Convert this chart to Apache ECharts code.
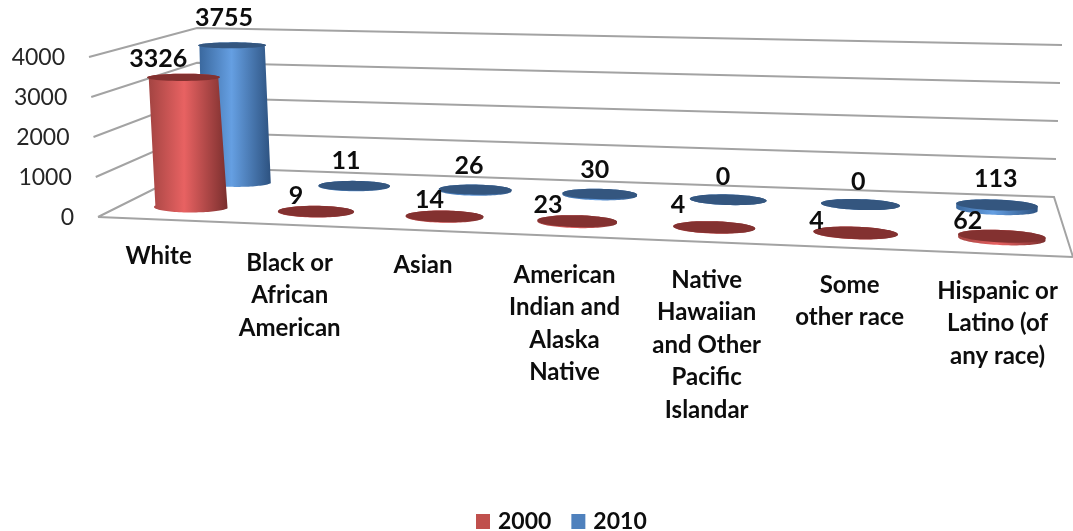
<!DOCTYPE html>
<html>
<head>
<meta charset="utf-8">
<style>html,body{margin:0;padding:0;background:#fff}#chart{width:1073px;height:531px}</style>
<script src="https://cdn.jsdelivr.net/npm/echarts@6/dist/echarts.min.js"></script>
</head>
<body>
<div id="chart"></div>
<script>
var categories = [
  'White',
  'Black or\nAfrican\nAmerican',
  'Asian',
  'American\nIndian and\nAlaska\nNative',
  'Native\nHawaiian\nand Other\nPacific\nIslandar',
  'Some\nother race',
  'Hispanic or\nLatino (of\nany race)'
];
var values2000 = [3326, 9, 14, 23, 4, 4, 62];
var values2010 = [3755, 11, 26, 30, 0, 0, 113];
var yTicks = [0, 1000, 2000, 3000, 4000];

// Hand-placed offsets of the value labels from the top of each cylinder.
var labelOffset2000 = [[-25, -18], [-20, -15], [-15, -16], [-29, -16], [-36, -22], [-39, -12], [-34, -15]];
var labelOffset2010 = [[-8, -27], [-8, -25], [-6, -24], [-5, -24], [-5, -23], [-2, -23], [-1, -26]];
// Hand-placed offsets of the category names from the front edge of the floor.
var categoryOffset = [[-2, 20], [1, 22], [2, 19], [7, 23], [8, 22], [5, 21], [2, 21]];

var FONT = 'Lato';
var PLANE = { left: 0, top: 0, width: 1000, height: 400 };
// Cylinders sit slightly right of the category band centres.
var COLUMN_SHIFT = 0.008;

// Corners of the floor and of the 4000 level: front-left, front-right, back-right, back-left.
var floorCorners = [[98, 217], [1073, 257], [1054, 197], [197, 167.5]];
var topCorners = [[89, 57], [1084, 83], [1062, 45], [197, 28]];

function homography(q) {
  var dx1 = q[1][0] - q[2][0], dx2 = q[3][0] - q[2][0], sx = q[0][0] - q[1][0] + q[2][0] - q[3][0];
  var dy1 = q[1][1] - q[2][1], dy2 = q[3][1] - q[2][1], sy = q[0][1] - q[1][1] + q[2][1] - q[3][1];
  var den = dx1 * dy2 - dx2 * dy1;
  var g = (sx * dy2 - dx2 * sy) / den, h = (dx1 * sy - sx * dy1) / den;
  var a = q[1][0] - q[0][0] + g * q[1][0], b = q[3][0] - q[0][0] + h * q[3][0];
  var d = q[1][1] - q[0][1] + g * q[1][1], e = q[3][1] - q[0][1] + h * q[3][1];
  return function (u, w) {
    var n = g * u + h * w + 1;
    return [(a * u + b * w + q[0][0]) / n, (d * u + e * w + q[0][1]) / n];
  };
}
var floorMap = homography(floorCorners);
var topMap = homography(topCorners);

// u runs along the categories, w into the depth, v up the value axis (all 0..1).
function project(u, w, v) {
  var f = floorMap(u, w), t = topMap(u, w);
  return [f[0] + (t[0] - f[0]) * v, f[1] + (t[1] - f[1]) * v];
}

// Reads the library's axis scales as fractions of the plotting plane.
function planeFractions(api, cat, val) {
  var c = api.coord([cat, val]);
  return [(c[0] - PLANE.left) / PLANE.width, (PLANE.top + PLANE.height - c[1]) / PLANE.height];
}

function ellipse(u, w, v, ru, rw, from, to) {
  var pts = [];
  for (var k = 0; k <= 48; k++) {
    var t = from + (to - from) * k / 48;
    pts.push(project(u + ru * Math.cos(t), w + rw * Math.sin(t), v));
  }
  return pts;
}

function cylinderSeries(name, values, depth, base, stops, topColor, offsets) {
  var RU = 0.042, RW = 0.1;
  return {
    name: name,
    type: 'custom',
    coordinateSystem: 'cartesian2d',
    clip: false,
    silent: true,
    animation: false,
    itemStyle: { color: base },
    data: values.map(function (v, i) { return [i, v]; }),
    encode: { x: 0, y: 1 },
    renderItem: function (params, api) {
      var val = api.value(1);
      var p = planeFractions(api, api.value(0), val);
      var u = p[0] + COLUMN_SHIFT, v = p[1];
      // Lower rim runs over the front of the circle, upper rim closes over the back.
      var front = ellipse(u, depth, 0, RU, RW, Math.PI, 2 * Math.PI);
      var back = ellipse(u, depth, v, RU, RW, 0, Math.PI);
      var lid = ellipse(u, depth, v, RU, RW, 0, 2 * Math.PI);
      var top = project(u, depth, v);
      var off = offsets[params.dataIndex];
      return {
        type: 'group',
        children: [
          {
            type: 'polygon',
            shape: { points: front.concat(back) },
            style: {
              fill: {
                type: 'linear', x: 0, y: 0, x2: 1, y2: 0,
                colorStops: stops
              }
            }
          },
          { type: 'polygon', shape: { points: lid }, style: { fill: topColor } },
          {
            type: 'text',
            x: top[0] + off[0],
            y: top[1] + off[1],
            style: {
              text: String(val),
              fill: '#0d0d0d',
              font: 'bold 25px ' + FONT,
              align: 'center',
              verticalAlign: 'middle'
            }
          }
        ]
      };
    }
  };
}

var option = {
  backgroundColor: '#ffffff',
  animation: false,
  grid: { left: PLANE.left, top: PLANE.top, width: PLANE.width, height: PLANE.height, show: false },
  xAxis: { type: 'category', data: categories, show: false },
  yAxis: { type: 'value', min: 0, max: 4000, interval: 1000, show: false },
  legend: {
    data: ['2000', '2010'],
    left: 471,
    top: 505,
    icon: 'rect',
    itemWidth: 14,
    itemHeight: 15,
    itemGap: 20,
    selectedMode: false,
    textStyle: { fontFamily: FONT, fontWeight: 'bold', fontSize: 23, color: '#0d0d0d', padding: [0, 0, 0, 3] }
  },
  series: [
    // Walls, floor and value-axis labels.
    {
      name: 'frame',
      type: 'custom',
      coordinateSystem: 'cartesian2d',
      clip: false,
      silent: true,
      animation: false,
      data: yTicks.map(function (t) { return [0, t]; }),
      encode: { x: 0, y: 1 },
      renderItem: function (params, api) {
        var tick = api.value(1);
        var v = planeFractions(api, 0, tick)[1];
        var pts = [project(0, 0, v), project(0, 1, v), project(1, 1, v)];
        if (tick === 0) { pts.push(project(1, 0, 0), project(0, 0, 0)); }
        return {
          type: 'group',
          children: [
            {
              type: 'polyline',
              shape: { points: pts },
              style: { stroke: '#a3a3a3', lineWidth: 2, fill: null }
            },
            {
              type: 'text',
              x: pts[0][0] - 24,
              y: pts[0][1] + 1,
              style: {
                text: String(tick),
                fill: '#262626',
                font: '23px ' + FONT,
                align: 'right',
                verticalAlign: 'middle'
              }
            }
          ]
        };
      }
    },
    cylinderSeries('2010', values2010, 0.73, '#4f81bd',
      [{ offset: 0, color: '#3a689e' }, { offset: 0.45, color: '#659fe2' }, { offset: 1, color: '#2d5280' }],
      '#34567f', labelOffset2010),
    cylinderSeries('2000', values2000, 0.235, '#c0504d',
      [{ offset: 0, color: '#a34442' }, { offset: 0.45, color: '#e86262' }, { offset: 1, color: '#7a2f2e' }],
      '#833130', labelOffset2000),
    // Category names hung below the front edge of the floor.
    {
      name: 'categories',
      type: 'custom',
      coordinateSystem: 'cartesian2d',
      clip: false,
      silent: true,
      animation: false,
      data: categories.map(function (c, i) { return [i, 0]; }),
      encode: { x: 0, y: 1 },
      renderItem: function (params, api) {
        var u = planeFractions(api, api.value(0), 0)[0];
        var edge = project(u, 0, 0);
        var off = categoryOffset[params.dataIndex];
        return {
          type: 'text',
          x: edge[0] + off[0],
          y: edge[1] + off[1],
          style: {
            text: categories[params.dataIndex],
            fill: '#0d0d0d',
            font: 'bold 24px ' + FONT,
            lineHeight: 32.5,
            align: 'center',
            verticalAlign: 'top'
          }
        };
      }
    }
  ]
};

echarts.init(document.getElementById('chart'), null, { renderer: 'canvas' }).setOption(option);
</script>
</body>
</html>
